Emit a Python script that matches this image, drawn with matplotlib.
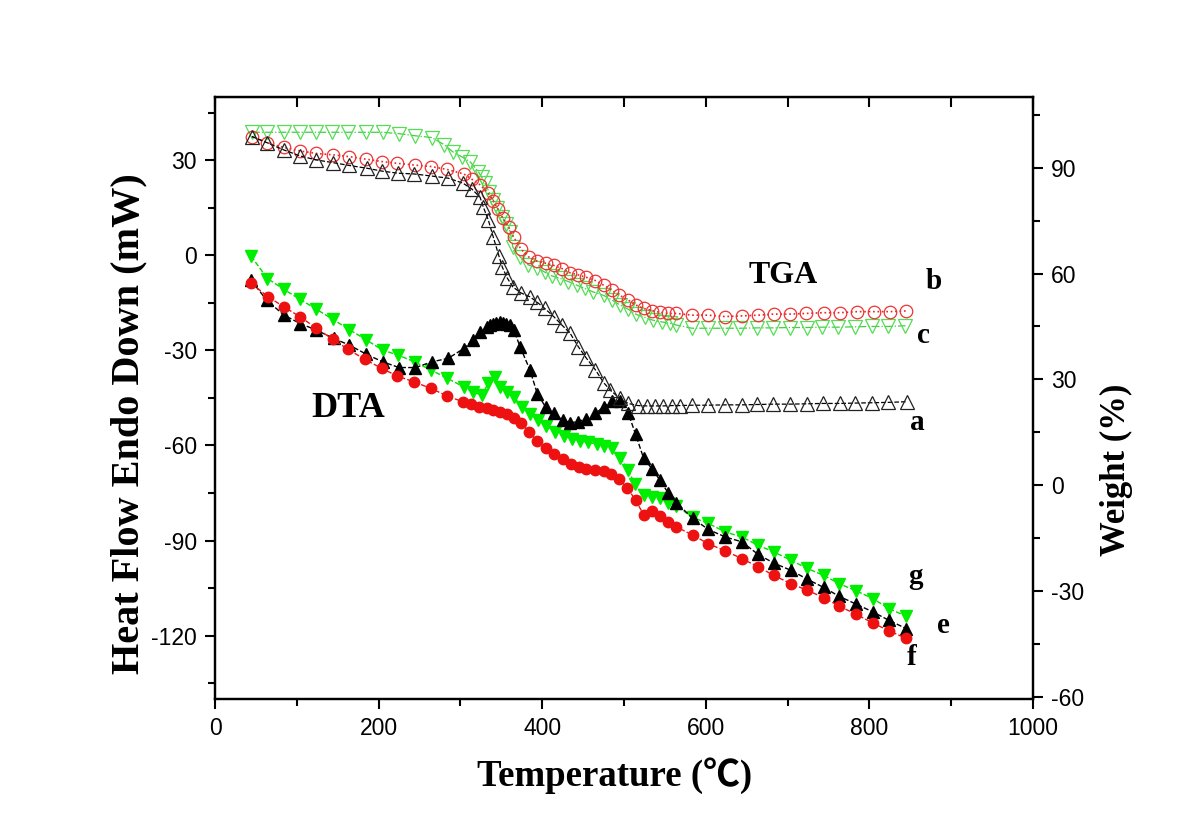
import matplotlib.pyplot as plt
from matplotlib.ticker import MultipleLocator

plt.rcParams['axes.unicode_minus'] = False

# TGA curves (right axis, weight %)
tga_a_t = [45, 63, 84, 104, 123, 144, 164, 186, 204, 224, 243, 265, 285, 303, 314, 324, 328,
           334, 340, 347, 351, 357, 364, 374, 385, 393, 403, 414, 424, 434, 444, 454, 465, 475,
           483, 495, 505, 517, 528, 538, 548, 559, 568, 583, 603, 623, 644, 663, 682, 703, 724,
           743, 764, 782, 803, 823, 846]
tga_a_w = [98.8, 97.1, 95.0, 93.3, 92.2, 91.4, 90.6, 89.8, 89.0, 88.4, 88.2, 87.6, 87.0, 85.6,
           83.9, 81.6, 78.8, 75.2, 70.4, 65.0, 61.9, 58.8, 56.2, 54.5, 53.4, 52.0, 50.1, 47.8,
           45.4, 43.1, 39.3, 36.0, 32.7, 29.1, 27.0, 24.6, 23.2, 22.6, 22.5, 22.5, 22.5, 22.6,
           22.6, 22.7, 22.7, 22.8, 22.8, 22.9, 23.0, 23.0, 23.1, 23.2, 23.2, 23.3, 23.4, 23.5, 23.7]

tga_b_t = [45, 63, 84, 104, 124, 144, 164, 184, 204, 223, 244, 264, 283, 304, 314, 324, 334,
           340, 346, 352, 359, 365, 374, 384, 394, 404, 414, 424, 434, 444, 454, 465, 475, 485,
           494, 505, 514, 524, 534, 544, 554, 563, 583, 603, 623, 644, 664, 683, 703, 723, 744,
           764, 785, 805, 825, 845]
tga_b_w = [98.8, 97.1, 95.7, 94.7, 94.0, 93.6, 93.1, 92.4, 91.7, 91.2, 90.7, 90.3, 89.5, 88.2,
           86.7, 85.1, 82.7, 80.6, 78.2, 75.6, 73.1, 70.3, 66.9, 64.6, 63.5, 62.9, 62.3, 61.4,
           60.2, 59.6, 58.9, 58.0, 56.7, 55.3, 53.9, 52.5, 51.1, 50.1, 49.5, 49.0, 48.7, 48.7,
           48.2, 48.2, 47.8, 48.0, 48.2, 48.5, 48.5, 48.7, 48.9, 48.9, 49.2, 49.2, 49.2, 49.4]

tga_c_t = [45, 63, 84, 104, 123, 143, 163, 185, 205, 225, 245, 265, 280, 291, 302, 312, 322,
           326, 330, 335, 340, 345, 351, 356, 361, 364, 373, 383, 394, 403, 412, 422, 432, 442,
           452, 462, 475, 485, 495, 505, 515, 525, 535, 546, 556, 564, 583, 603, 623, 642, 663,
           682, 703, 724, 742, 762, 782, 803, 823, 844]
tga_c_w = [100, 100, 100, 100, 100, 100, 100, 100, 100, 99.6, 99.0, 98.5, 96.5, 94.4, 93.0,
           91.6, 88.8, 87.3, 85.6, 83.1, 80.8, 78.5, 76.0, 74.0, 71.8, 67.5, 64.7, 62.4, 61.6,
           60.4, 59.3, 58.6, 57.7, 56.7, 55.8, 54.8, 53.8, 52.5, 51.1, 49.9, 48.4, 47.6, 46.8,
           46.3, 45.9, 45.4, 44.5, 44.5, 44.5, 44.5, 44.6, 44.6, 44.7, 44.7, 44.8, 44.8, 44.9,
           45.0, 45.0, 45.2]

# DTA curves (left axis, heat flow mW)
dta_e_t = [44, 63, 84, 104, 124, 145, 164, 185, 205, 225, 245, 265, 285, 304, 315, 324, 332,
           336, 340, 344, 348, 352, 356, 360, 365, 373, 385, 394, 404, 414, 425, 434, 444, 454,
           465, 475, 485, 495, 505, 514, 524, 534, 544, 554, 564, 584, 603, 624, 644, 664, 683,
           704, 724, 744, 763, 784, 804, 824, 845]
dta_e_h = [-7.8, -14.1, -18.8, -21.5, -23.6, -26.2, -28.3, -31.2, -33.6, -35.4, -35.4, -33.6,
           -32.5, -29.4, -26.7, -24.1, -22.5, -22.0, -21.5, -21.2, -21.1, -21.2, -21.5, -22.0,
           -23.4, -28.9, -36.2, -43.7, -47.8, -49.9, -52.0, -52.8, -52.5, -51.5, -49.9, -47.8,
           -45.9, -46.0, -49.7, -56.4, -64.1, -67.3, -71.0, -75.0, -78.1, -83.0, -86.5, -88.9,
           -90.4, -94.4, -97.1, -99.4, -102.2, -104.8, -107.6, -110.1, -112.5, -115.2, -117.8]

dta_f_t = [44, 65, 84, 104, 124, 144, 163, 183, 204, 223, 243, 264, 284, 303, 313, 323, 332,
           340, 348, 357, 365, 374, 384, 394, 404, 414, 425, 435, 445, 454, 465, 475, 484, 494,
           504, 514, 524, 534, 544, 554, 564, 584, 603, 624, 644, 664, 683, 704, 724, 744, 763,
           784, 804, 824, 845]
dta_f_h = [-8.8, -13.1, -16.2, -19.4, -23.0, -26.5, -29.7, -32.8, -35.7, -38.1, -39.9, -42.0,
           -44.4, -46.2, -47.0, -47.8, -48.3, -48.8, -49.4, -50.1, -51.2, -52.9, -55.7, -58.7,
           -60.7, -62.7, -64.4, -65.7, -66.7, -67.3, -67.6, -68.0, -69.1, -70.7, -73.3, -77.3,
           -81.8, -80.8, -82.3, -84.1, -85.7, -88.3, -91.0, -93.3, -95.7, -98.3, -101.0, -103.6,
           -105.7, -108.0, -110.7, -113.3, -116.0, -118.5, -120.9]

dta_g_t = [44, 64, 84, 104, 124, 144, 164, 185, 205, 224, 244, 264, 284, 304, 315, 326, 334,
           342, 348, 357, 365, 375, 385, 395, 405, 416, 426, 436, 446, 456, 467, 476, 485, 495,
           505, 513, 524, 534, 544, 554, 564, 584, 603, 624, 644, 664, 683, 704, 724, 744, 763,
           784, 804, 824, 845]
dta_g_h = [-0.2, -7.3, -10.7, -13.9, -17.0, -20.2, -23.4, -26.7, -29.9, -31.5, -33.6, -36.2,
           -38.8, -41.5, -43.1, -44.1, -40.4, -38.5, -41.5, -43.1, -44.6, -47.8, -50.0, -52.0,
           -53.7, -55.7, -57.1, -57.8, -58.5, -59.0, -59.6, -60.1, -60.9, -63.8, -67.6, -72.2,
           -75.7, -76.2, -76.7, -78.1, -79.1, -82.7, -84.6, -87.3, -88.9, -91.5, -93.6, -96.2,
           -98.8, -101.0, -103.6, -105.9, -108.3, -111.5, -113.9]

serif = ['Liberation Serif', 'Noto Sans CJK SC', 'DejaVu Sans']
sans = 'Liberation Sans'

fig = plt.figure(figsize=(12, 8.38), dpi=100)
ax = fig.add_axes([0.1792, 0.1659, 0.6817, 0.7184])
ax2 = ax.twinx()

# DTA on left axis
ax.plot(dta_g_t, dta_g_h, linestyle='--', color='#00dd00', lw=1, marker='v', ms=8.5,
        mfc='#00ee00', mec='#00ee00')
ax.plot(dta_e_t, dta_e_h, linestyle='--', color='black', lw=1, marker='^', ms=8,
        mfc='black', mec='black')
ax.plot(dta_f_t, dta_f_h, linestyle='--', color='#ee1111', lw=1, marker='o', ms=7.5,
        mfc='#ee1111', mec='#ee1111')

# TGA on right axis
ax2.plot(tga_c_t, tga_c_w, linestyle='-.', color='#44cc44', lw=0.9, marker='v', ms=10,
         mfc='none', mec='#55dd55', mew=0.9)
ax2.plot(tga_b_t, tga_b_w, linestyle=':', color='#ee2222', lw=1.2, marker='o', ms=9,
         mfc='none', mec='#ee3333', mew=0.9)
ax2.plot(tga_a_t, tga_a_w, linestyle='--', color='black', lw=0.9, marker='^', ms=10,
         mfc='none', mec='#222222', mew=0.9)

ax.set_xlim(0, 1000)
ax.set_ylim(-140, 50)
ax2.set_ylim(-60.5, 110)

ax.xaxis.set_major_locator(MultipleLocator(200))
ax.xaxis.set_minor_locator(MultipleLocator(100))
ax.yaxis.set_major_locator(MultipleLocator(30))
ax.yaxis.set_minor_locator(MultipleLocator(15))
ax2.yaxis.set_major_locator(MultipleLocator(30))
ax2.yaxis.set_minor_locator(MultipleLocator(15))

for a in (ax, ax2):
    for s in a.spines.values():
        s.set_linewidth(1.6)
ax.tick_params(axis='both', which='major', direction='out', length=7, width=1.5,
               labelsize=16.5, pad=6)
ax.tick_params(axis='both', which='minor', direction='out', length=5, width=1.5)
ax2.tick_params(axis='y', which='major', direction='out', length=7, width=1.5,
                labelsize=16.5, pad=6)
ax2.tick_params(axis='y', which='minor', direction='out', length=5, width=1.5)
for lab in ax.get_xticklabels() + ax.get_yticklabels() + ax2.get_yticklabels():
    lab.set_fontfamily(sans)

# inward ticks on the top edge
top = ax.secondary_xaxis('top')
top.xaxis.set_major_locator(MultipleLocator(100))
top.tick_params(axis='x', direction='in', length=7, width=1.5, labeltop=False)

ax.set_xlabel('Temperature (℃)', fontsize=26.5, fontweight='bold', family=serif)
ax.xaxis.set_label_coords(0.489, -0.096)
ax.set_ylabel('Heat Flow Endo Down (mW)', fontsize=29, fontweight='bold', family=serif)
ax.yaxis.set_label_coords(-0.083, 0.458)
ax2.set_ylabel('Weight (%)', fontsize=25, fontweight='bold', family=serif, rotation=90)
ax2.yaxis.set_label_coords(1.082, 0.38)

ax.text(694, -6.2, 'TGA', fontsize=23, fontweight='bold', family=serif, ha='center', va='center')
ax.text(163, -48.2, 'DTA', fontsize=26, fontweight='bold', family=serif, ha='center', va='center')
for t, h, s in [(878, -8.4, 'b'), (866, -25.2, 'c'), (859, -52.6, 'a'),
                (856, -101.5, 'g'), (890, -116.7, 'e'), (852, -126.8, 'f')]:
    ax.text(t, h, s, fontsize=21, fontweight='bold', family=serif, ha='center', va='center')

fig.savefig('out.png', dpi=100)
